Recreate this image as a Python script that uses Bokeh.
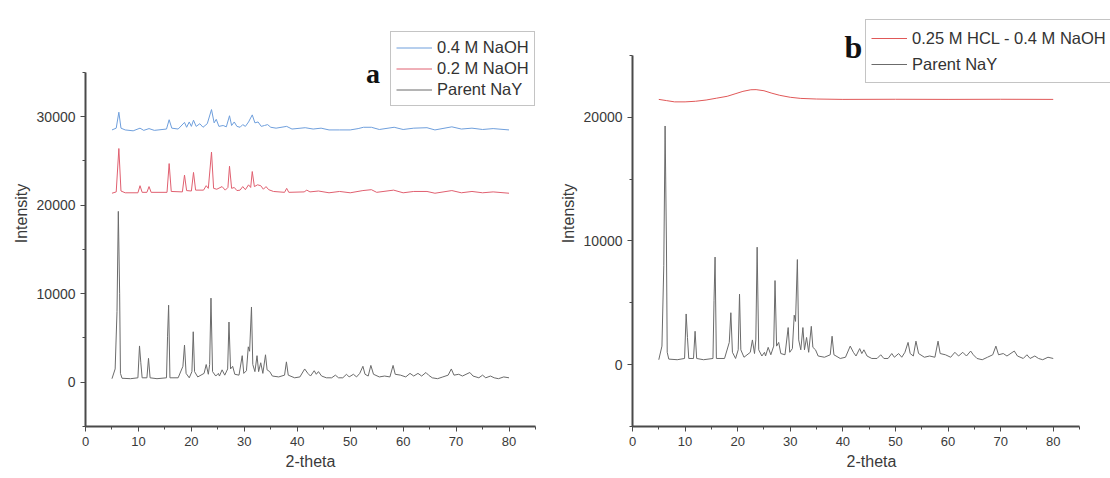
from bokeh.plotting import figure
from bokeh.models import Legend, LegendItem, Label, SingleIntervalTicker, Range1d
from bokeh.layouts import row
from bokeh.embed import file_html
from bokeh.resources import INLINE

# ---------------- data ----------------
# Parent NaY diffraction pattern (2-theta, intensity)
parent_theta = [5.0, 5.6, 5.95, 6.2, 6.45, 6.6, 6.9, 8.5, 9.9, 10.2, 10.45, 10.7, 11.6, 11.9, 12.2,
                13.5, 15.3, 15.5, 15.7, 15.95, 17.5, 18.4, 18.7, 19.0, 19.6, 20.1, 20.35, 20.6, 21.2,
                22.4, 22.8, 23.2, 23.45, 23.7, 24.0, 24.6, 25.1, 25.3, 25.8, 26.3, 26.85, 27.1, 27.4,
                27.8, 28.2, 29.0, 29.6, 29.9, 30.4, 30.75, 31.0, 31.35, 31.6, 32.0, 32.4, 32.7, 33.1,
                33.5, 34.0, 34.3, 34.8, 35.3, 36.5, 37.6, 37.95, 38.3, 39.5, 40.5, 41.4, 42.0, 42.5,
                43.2, 43.6, 44.0, 44.6, 45.5, 46.5, 47.2, 47.8, 48.6, 49.3, 49.8, 50.6, 51.2, 51.8,
                52.4, 52.8, 53.4, 53.9, 54.4, 55.5, 56.5, 57.5, 58.1, 58.5, 59.5, 60.5, 61.3, 62.0,
                62.8, 63.5, 64.3, 64.8, 65.5, 66.5, 67.5, 68.5, 69.1, 69.6, 70.5, 71.2, 72.6, 73.2,
                74.3, 75.0, 75.6, 76.5, 77.2, 78.0, 79.0, 80.0]
parent_counts = [400, 1500, 8000, 19300, 10000, 1000, 450, 400, 500, 4100, 2200, 500, 500, 2700, 500,
                 400, 500, 5200, 8700, 500, 500, 1800, 4200, 1000, 500, 1200, 5700, 1200, 600,
                 1000, 2000, 900, 2000, 9500, 1200, 700, 1000, 700, 1400, 800, 1500, 6800, 1500,
                 1800, 900, 800, 3000, 1000, 1300, 4000, 3500, 8500, 2000, 1200, 3000, 1200, 2200,
                 1000, 3100, 1400, 1200, 700, 600, 800, 2300, 800, 500, 600, 1500, 1000, 700,
                 1300, 900, 1200, 700, 500, 500, 800, 500, 500, 900, 600, 900, 600, 1000,
                 1800, 900, 700, 1900, 900, 600, 700, 600, 1900, 900, 800, 600, 1000, 700,
                 1000, 700, 1100, 800, 500, 400, 600, 800, 1500, 800, 900, 700, 1100, 700,
                 500, 800, 500, 700, 500, 400, 600, 500]

# 0.4 M NaOH treated sample (offset trace)
naoh04_theta = [5.0, 5.8, 6.3, 6.7, 7.5, 9.0, 10.3, 11.0, 12.0, 13.0, 15.3, 15.8, 16.3, 17.5, 18.7,
                19.1, 19.6, 20.0, 20.4, 20.9, 21.6, 22.2, 23.0, 23.8, 24.3, 24.7, 25.2, 26.0, 26.6,
                27.2, 27.6, 28.1, 28.6, 29.2, 29.7, 30.2, 30.8, 31.5, 32.0, 32.6, 33.2, 33.8, 34.4,
                35.0, 36.0, 38.0, 39.0, 41.5, 43.0, 44.5, 46.0, 48.0, 50.0, 51.5, 52.5, 54.0, 55.5,
                58.3, 60.0, 62.0, 64.5, 66.0, 69.2, 71.0, 73.0, 75.0, 77.0, 80.0]
naoh04_counts = [28500, 28700, 30500, 28700, 28500, 28400, 28700, 28450, 28650, 28450, 28600, 29650,
                 28700, 28600, 29350, 28800, 29400, 28900, 29600, 28900, 29200, 28800, 29200, 30800,
                 29300, 29700, 28900, 29000, 28850, 30100, 29000, 29400, 28900, 28800, 29100, 28900,
                 29400, 30200, 29300, 29400, 28900, 29000, 29100, 28800, 28700, 28900, 28600, 28750,
                 28600, 28700, 28500, 28500, 28500, 28650, 28800, 28800, 28550, 28800, 28550, 28700,
                 28750, 28500, 28850, 28600, 28700, 28550, 28650, 28500]

# 0.2 M NaOH treated sample (offset trace)
naoh02_theta = [5.0, 5.8, 6.3, 6.7, 7.5, 9.9, 10.3, 10.7, 11.6, 12.0, 12.4, 15.4, 15.8, 16.2, 18.3,
                18.7, 19.1, 20.0, 20.4, 20.8, 22.3, 22.8, 23.2, 23.8, 24.2, 24.8, 25.8, 26.4, 26.9,
                27.2, 27.6, 28.1, 28.6, 29.2, 29.7, 30.2, 30.8, 31.2, 31.5, 31.9, 32.5, 33.1, 33.6,
                34.1, 34.6, 35.5, 37.6, 38.0, 38.4, 41.3, 41.8, 42.4, 44.0, 46.0, 48.0, 50.0, 52.4,
                54.0, 55.0, 58.2, 60.0, 62.0, 64.5, 66.0, 69.2, 71.0, 73.0, 75.0, 77.0, 80.0]
naoh02_counts = [21350, 21500, 26400, 21600, 21400, 21400, 22200, 21450, 21450, 22100, 21450, 21450,
                 24700, 21550, 21500, 23400, 21650, 21600, 23700, 21700, 21700, 22200, 21900, 26000,
                 21900, 21800, 22100, 21700, 22000, 24400, 21900, 22000, 21650, 21700, 22100, 21750,
                 22300, 22000, 23800, 22100, 22300, 22200, 21800, 22100, 21750, 21550, 21450, 21900,
                 21450, 21500, 21700, 21500, 21600, 21400, 21550, 21400, 21650, 21750, 21450, 21700,
                 21400, 21550, 21550, 21350, 21650, 21400, 21550, 21400, 21500, 21350]

# 0.25 M HCl followed by 0.4 M NaOH (offset trace)
acid_base_theta = [5, 6.5, 8, 10, 12, 14, 16, 18, 19.5, 21, 22.5, 23.5, 25, 26.5, 28, 30, 32, 35,
                   40, 50, 60, 70, 80]
acid_base_counts = [21450, 21350, 21250, 21250, 21300, 21400, 21550, 21700, 21900, 22100, 22230,
                    22240, 22150, 21950, 21780, 21620, 21530, 21480, 21450, 21460, 21450, 21460, 21450]

legend_a = ["0.4 M NaOH", "0.2 M NaOH", "Parent NaY"]
legend_b = ["0.25 M HCL - 0.4 M NaOH", "Parent NaY"]

GRAY = "#6b6b6b"
BLUE = "#6f9fdc"
RED = "#e06070"
FONT = "Liberation Sans"


def make_panel(width, x_view, y_view, x_axis_span, y_axis_span, b_left, b_right, b_bottom):
    # the frame reaches the top edge so the legend and panel letter stay visible;
    # axis bounds keep the drawn axes at their own extent
    p = figure(width=width, height=478, output_backend="svg", toolbar_location=None,
               x_range=Range1d(*x_view), y_range=Range1d(*y_view),
               min_border_left=b_left, min_border_right=b_right,
               min_border_top=0, min_border_bottom=b_bottom)
    p.outline_line_color = None
    p.grid.visible = False
    p.background_fill_color = "white"
    p.border_fill_color = "white"
    p.xaxis.ticker = SingleIntervalTicker(interval=10, num_minor_ticks=2)
    p.yaxis.ticker = SingleIntervalTicker(interval=10000, num_minor_ticks=2)
    p.xaxis.bounds = x_axis_span
    p.yaxis.bounds = y_axis_span
    p.xaxis.axis_label = "2-theta"
    p.yaxis.axis_label = "Intensity"
    for ax in (p.xaxis[0], p.yaxis[0]):
        ax.axis_line_color = "#4a4a4a"
        ax.axis_line_width = 2
        ax.major_tick_line_color = "#4a4a4a"
        ax.minor_tick_line_color = "#4a4a4a"
        ax.major_tick_out = 5
        ax.major_tick_in = 0
        ax.minor_tick_out = 3
        ax.minor_tick_in = 0
        ax.major_label_text_font = FONT
        ax.major_label_text_color = "#3a3a3a"
        ax.axis_label_text_font = FONT
        ax.axis_label_text_font_size = "16px"
        ax.axis_label_text_font_style = "normal"
        ax.axis_label_text_color = "#3a3a3a"
        ax.axis_label_standoff = 4
    p.xaxis.major_label_text_font_size = "13px"
    p.yaxis.major_label_text_font_size = "14px"
    return p


def style_legend(lg, row_h):
    lg.border_line_color = "#8a8a8a"
    lg.border_line_width = 1
    lg.background_fill_color = "white"
    lg.background_fill_alpha = 1
    lg.padding = 5
    lg.spacing = 0
    lg.margin = 0
    lg.label_text_font = FONT
    lg.label_text_font_size = "16.5px"
    lg.label_text_color = "#333333"
    lg.label_height = row_h
    lg.glyph_height = row_h
    lg.glyph_width = 36
    lg.label_standoff = 5


# ---------------- panel a ----------------
pa = make_panel(545, (0, 85), (-5000, 43120), (0, 85), (-5000, 35000), 85, 10, 51)
r_par_a = pa.line(parent_theta, parent_counts, line_color=GRAY, line_width=1)
r_02 = pa.line(naoh02_theta, naoh02_counts, line_color=RED, line_width=1)
r_04 = pa.line(naoh04_theta, naoh04_counts, line_color=BLUE, line_width=1)

leg_a = Legend(items=[LegendItem(label=legend_a[0], renderers=[r_04]),
                      LegendItem(label=legend_a[1], renderers=[r_02]),
                      LegendItem(label=legend_a[2], renderers=[r_par_a])],
               location=(305, 320))
style_legend(leg_a, 21)
pa.add_layout(leg_a)

pa.add_layout(Label(x=54.3, y=34900, text="a", text_font="Liberation Serif",
                    text_font_style="bold", text_font_size="28px", text_color="#111111",
                    text_align="center", text_baseline="middle"))

# ---------------- panel b ----------------
pb = make_panel(565, (0, 90.89), (-5000, 29447), (0, 85), (-5000, 25000), 87, 0, 52)
r_par_b = pb.line(parent_theta, parent_counts, line_color=GRAY, line_width=1)
r_ab = pb.line(acid_base_theta, acid_base_counts, line_color="#e05858", line_width=1)

leg_b = Legend(items=[LegendItem(label=legend_b[0], renderers=[r_ab]),
                      LegendItem(label=legend_b[1], renderers=[r_par_b])],
               location=(233, 343))
style_legend(leg_b, 26)
pb.add_layout(leg_b)

pb.add_layout(Label(x=42.0, y=25650, text="b", text_font="Liberation Serif",
                    text_font_style="bold", text_font_size="32px", text_color="#111111",
                    text_align="center", text_baseline="middle"))

layout = row(pa, pb)
open("out.html", "w").write(file_html(layout, INLINE))
